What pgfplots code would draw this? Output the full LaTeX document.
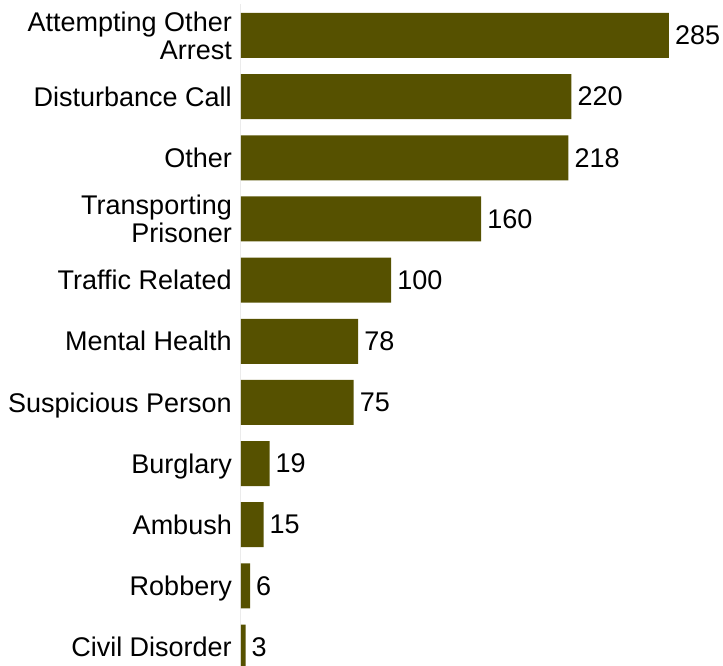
\documentclass[border=0pt]{standalone}
\usepackage{fontspec}
\setmainfont{Liberation Sans}
\usepackage{pgfplots}
\pgfplotsset{compat=1.18}
\definecolor{barcol}{RGB}{86,81,0}
\newcommand\cl[1]{\smash{#1}\rule{0pt}{19.3pt}}
\begin{document}
\begin{tikzpicture}
\begin{axis}[
  name=ax,
  xbar,
  scale only axis,
  width=482pt, height=662pt,
  xmin=0, xmax=321,
  ymin=-0.31, ymax=10.515,
  bar width=45pt,
  axis x line=none,
  axis y line=left,
  y axis line style={-, draw=black!8, line width=1pt},
  ytick={0,...,10},
  yticklabels={{\cl{Civil Disorder}},{\cl{Robbery}},{\cl{Ambush}},{\cl{Burglary}},{\cl{Suspicious Person}},{\cl{Mental Health}},{\cl{Traffic Related}},{\cl{Transporting}\\\smash{Prisoner}},{\cl{Other}},{\cl{Disturbance Call}},{\cl{Attempting Other}\\\smash{Arrest}}},
  major tick length=0pt,
  yticklabel style={align=right, font=\fontsize{27}{28}\selectfont, inner sep=0pt, xshift=-9pt},
  nodes near coords,
  nodes near coords style={font=\fontsize{27}{30}\selectfont, anchor=west, inner sep=0pt, xshift=6pt, text=black},
  /pgf/number format/assume math mode=true,
]
\addplot[fill=barcol, draw=none] coordinates {
  (3,0) (6,1) (15,2) (19,3) (75,4) (78,5) (100,6) (160,7) (218,8) (220,9) (285,10)
};
\end{axis}
\pgfresetboundingbox
\path[use as bounding box] (ax.south west) ++(-241pt,0pt) rectangle ++(723pt,666pt);
\end{tikzpicture}
\end{document}
